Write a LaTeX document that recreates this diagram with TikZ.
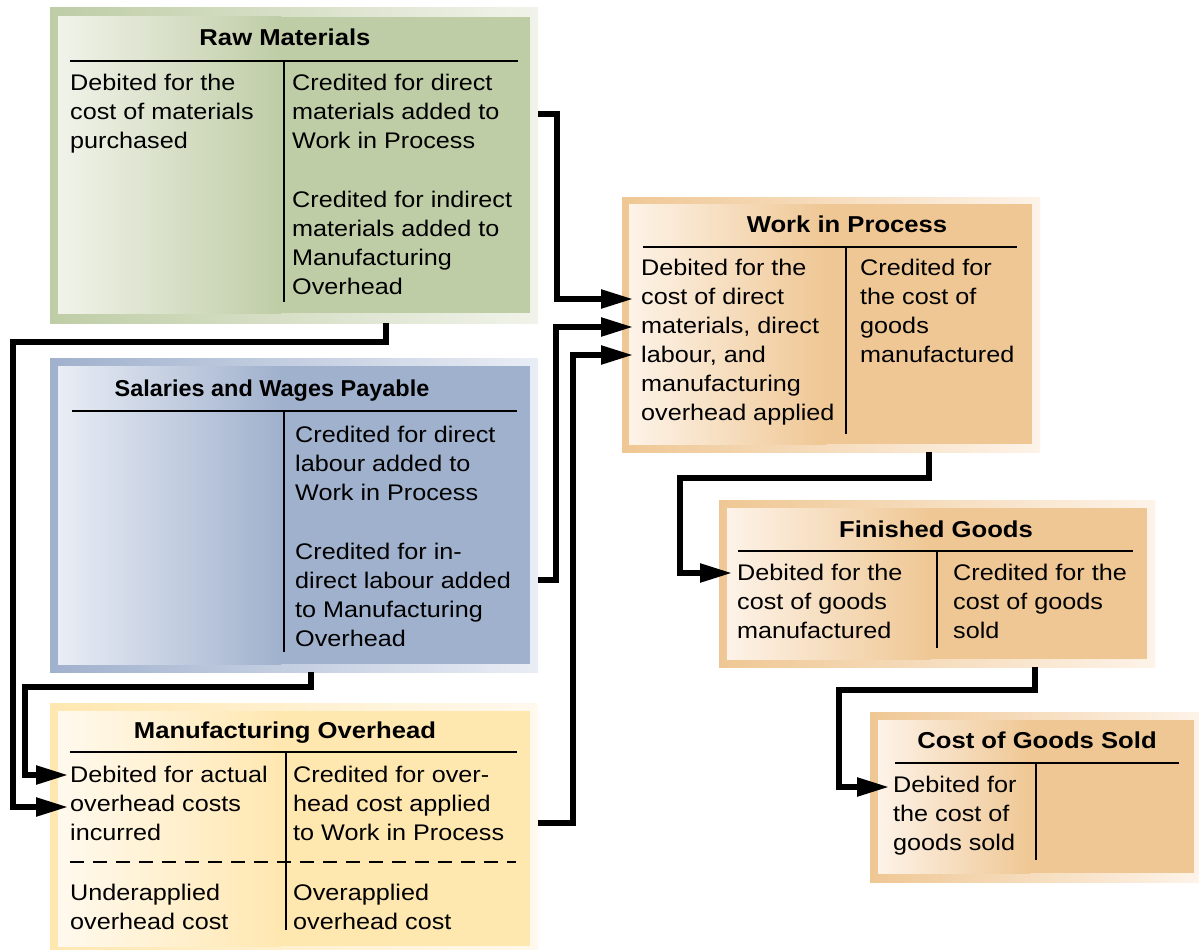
\documentclass[tikz,border=0pt]{standalone}
\usepackage{fontspec}
\setmainfont[FakeStretch=1.115]{Liberation Sans}
\newfontfamily\narrowsans[FakeStretch=1.02]{Liberation Sans}
\usetikzlibrary{arrows.meta}
\definecolor{grD}{HTML}{BFCDA6}
\definecolor{grL}{HTML}{F1F3EA}
\definecolor{blD}{HTML}{A0B1CD}
\definecolor{blL}{HTML}{E9EDF5}
\definecolor{ylD}{HTML}{FFE7B0}
\definecolor{ylL}{HTML}{FFF9EE}
\definecolor{orD}{HTML}{EFC794}
\definecolor{orL}{HTML}{FDF3E8}
\newcommand\bodyfont{\fontsize{22.6}{29}\selectfont}
\newcommand\ttlfont{\fontsize{23}{29}\selectfont\bfseries}
\begin{document}
\begin{tikzpicture}[x=1pt,y=-1pt,
  body/.style={anchor=north west, inner sep=0pt, align=left, font=\bodyfont, yshift=20.3pt},
  ttl/.style={anchor=base, inner sep=0pt, font=\ttlfont},
  rule/.style={line width=2.8pt},
  flow/.style={line width=5.4pt, -{Triangle[length=32pt,width=18pt]}}]
\useasboundingbox (0,0) rectangle (1199,950);
% ---------- Raw Materials
\fill[left color=grD, right color=grL] (50,8) rectangle (538,323);
\fill[left color=grL, right color=grD] (58,17) rectangle (281,313);
\fill[grD] (280,17) rectangle (530,313);
\node[ttl] (rmT) at (285,46) {Raw Materials};
\draw[rule] (70,61) -- (518,61);
\draw[rule] (284,61) -- (284,302);
\node[body] (rmL) at (70,90) {\strut Debited for the\\cost of materials\\purchased};
\node[body] (rmR1) at (292,90) {\strut Credited for direct\\materials added to\\Work in Process};
\node[body] (rmR2) at (292,207) {\strut Credited for indirect\\materials added to\\Manufacturing\\Overhead};
% ---------- Salaries and Wages Payable
\fill[left color=blD, right color=blL] (50,358) rectangle (538,672);
\fill[left color=blL, right color=blD] (58,366) rectangle (281,664);
\fill[blD] (280,366) rectangle (530,664);
\node[ttl, font={\fontsize{23}{29}\narrowsans\bfseries}] (swT) at (272,396) {Salaries and Wages Payable};
\draw[rule] (72,411) -- (517,411);
\draw[rule] (284,411) -- (284,652);
\node[body] (swR1) at (295,442) {\strut Credited for direct\\labour added to\\Work in Process};
\node[body] (swR2) at (295,559) {\strut Credited for in-\\direct labour added\\to Manufacturing\\Overhead};
% ---------- Manufacturing Overhead
\fill[left color=ylD, right color=ylL] (50,703) rectangle (538,950);
\fill[left color=ylL, right color=ylD] (58,711) rectangle (281,946);
\fill[ylD] (280,711) rectangle (530,946);
\node[ttl] (moT) at (285,738) {Manufacturing Overhead};
\draw[rule] (70,752) -- (517,752);
\draw[rule] (286,752) -- (286,930);
\draw[line width=2.8pt, dash pattern=on 14pt off 9pt] (70,862) -- (516,862);
\node[body] (moL1) at (70,782) {\strut Debited for actual\\overhead costs\\incurred};
\node[body] (moR1) at (293,782) {\strut Credited for over-\\head cost applied\\to Work in Process};
\node[body] (moL2) at (70,900) {\strut Underapplied\\overhead cost};
\node[body] (moR2) at (293,900) {\strut Overapplied\\overhead cost};
% ---------- Work in Process
\fill[left color=orD, right color=orL] (622,197) rectangle (1040,452);
\fill[left color=orL, right color=orD] (629,204) rectangle (826,444);
\fill[orD] (825,204) rectangle (1032,444);
\node[ttl] (wpT) at (847,232) {Work in Process};
\draw[rule] (643,247) -- (1017,247);
\draw[rule] (846,247) -- (846,434);
\node[body] (wpL) at (641,275) {\strut Debited for the\\cost of direct\\materials, direct\\labour, and\\manufacturing\\overhead applied};
\node[body] (wpR) at (860,275) {\strut Credited for\\the cost of\\goods\\manufactured};
% ---------- Finished Goods
\fill[left color=orD, right color=orL] (719,500) rectangle (1155,667);
\fill[left color=orL, right color=orD] (727,508) rectangle (930,659);
\fill[orD] (929,508) rectangle (1147,659);
\node[ttl] (fgT) at (936,537) {Finished Goods};
\draw[rule] (738,551) -- (1133,551);
\draw[rule] (937,551) -- (937,648);
\node[body] (fgL) at (737,580) {\strut Debited for the\\cost of goods\\manufactured};
\node[body] (fgR) at (953,580) {\strut Credited for the\\cost of goods\\sold};
% ---------- Cost of Goods Sold
\fill[left color=orD, right color=orL] (870,712) rectangle (1199,882);
\fill[left color=orL, right color=orD] (878,720) rectangle (1030,873);
\fill[orD] (1029,720) rectangle (1194,873);
\node[ttl] (cgT) at (1037,748) {Cost of Goods Sold};
\draw[rule] (895,763) -- (1179,763);
\draw[rule] (1036,763) -- (1036,860);
\node[body] (cgL) at (893,792) {\strut Debited for\\the cost of\\goods sold};
% ---------- connectors
\coordinate (rmOut) at (538,114);
\coordinate (swOut) at (538,580);
\coordinate (moOut) at (538,823);
\coordinate (wpIn1) at (633,299);
\coordinate (wpIn2) at (633,327);
\coordinate (wpIn3) at (633,355);
\coordinate (rmDown) at (386,323);
\coordinate (swDown) at (311,672);
\coordinate (moIn1) at (68,775);
\coordinate (moIn2) at (68,807);
\coordinate (wpDown) at (929,452);
\coordinate (fgIn) at (732,573);
\coordinate (fgDown) at (1035,667);
\coordinate (cgIn) at (889,787);
\draw[flow] (rmOut) -- ++(19,0) |- (wpIn1);
\draw[flow] (swOut) -- ++(18,0) |- (wpIn2);
\draw[flow] (moOut) -- ++(35,0) |- (wpIn3);
\draw[flow] (rmDown) -- ++(0,19) -- ++(-373,0) |- (moIn2);
\draw[flow] (swDown) -- ++(0,15) -- ++(-286,0) |- (moIn1);
\draw[flow] (wpDown) -- ++(0,26) -- ++(-249,0) |- (fgIn);
\draw[flow] (fgDown) -- ++(0,23) -- ++(-196,0) |- (cgIn);
\end{tikzpicture}
\end{document}
